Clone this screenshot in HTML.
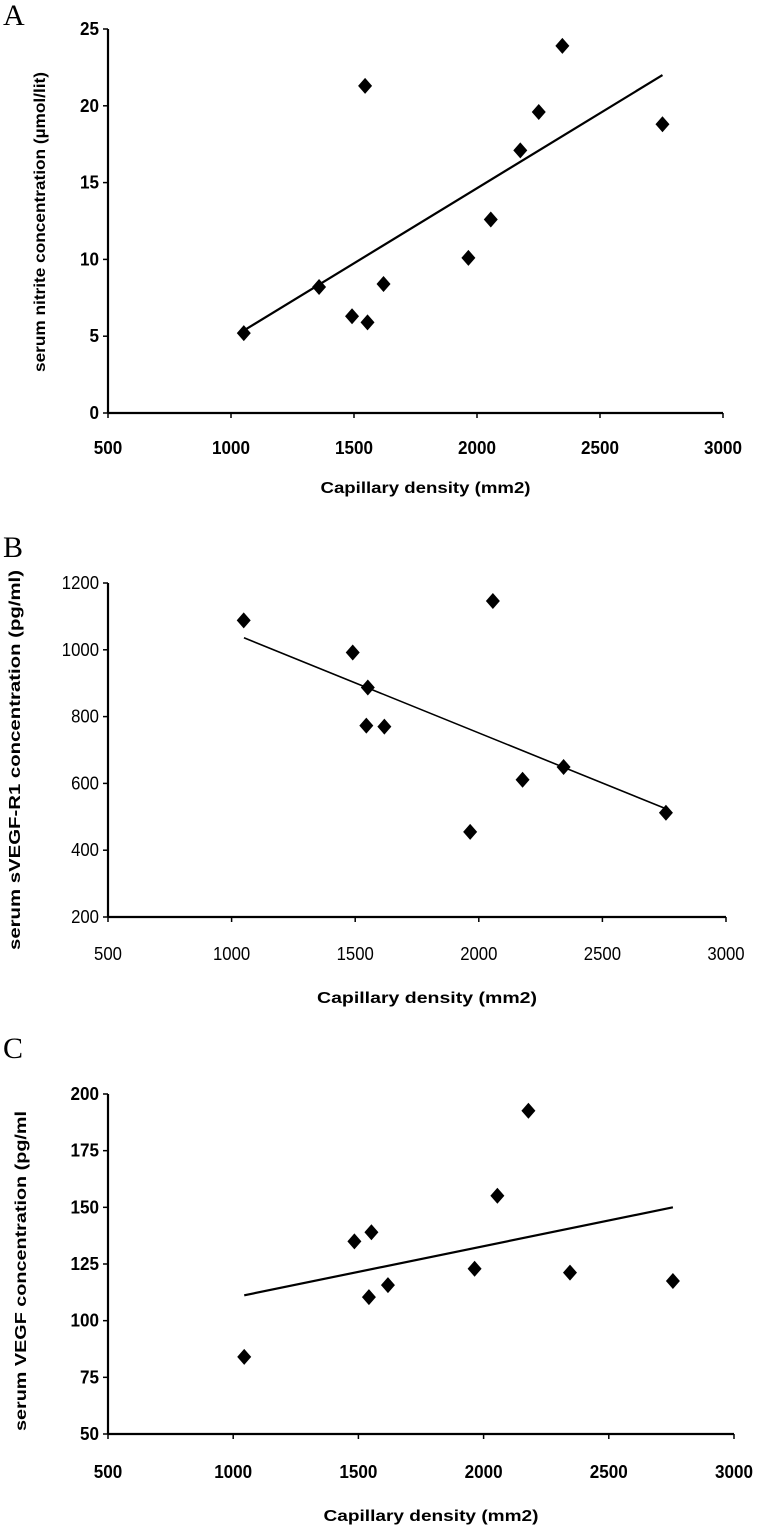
<!DOCTYPE html>
<html><head><meta charset="utf-8">
<style>
html,body{margin:0;padding:0;background:#fff;}
svg{display:block;}
.tb{font-family:"Liberation Sans Narrow","Liberation Sans",sans-serif;font-weight:bold;font-size:18px;fill:#000;}
.tr{font-family:"Liberation Sans Narrow","Liberation Sans",sans-serif;font-size:18px;fill:#000;}
.tt{font-family:"Liberation Sans Narrow","Liberation Sans",sans-serif;font-weight:bold;font-size:16px;fill:#000;}
.pl{font-family:"Liberation Serif",serif;font-size:30px;fill:#000;}
</style></head>
<body>
<svg id="chart" width="757" height="1528" viewBox="0 0 757 1528" xmlns="http://www.w3.org/2000/svg"></svg>
<script>
const xTicks = [500,1000,1500,2000,2500,3000];
const aX = [1052,1358,1492,1545,1555,1620,1965,2056,2176,2251,2347,2754];
const aY = [5.2,8.2,6.3,21.3,5.9,8.4,10.1,12.6,17.1,19.6,23.9,18.8];
const aTrendX = [1050,2754];
const aTrendY = [5.35,22.0];
const aYTicks = [0,5,10,15,20,25];
const bX = [1049,1490,1551,1545,1618,1965,2057,2177,2343,2757];
const bY = [1088,992,887,773,770,455,1146,611,649,512];
const bTrendX = [1050,2757];
const bTrendY = [1036,524];
const bYTicks = [200,400,600,800,1000,1200];
const cX = [1044,1484,1552,1542,1618,1964,2055,2179,2345,2756];
const cY = [84,135,139,110.4,115.7,122.9,155.1,192.6,121.2,117.5];
const cTrendX = [1044,2756];
const cTrendY = [111.2,150];
const cYTicks = [50,75,100,125,150,175,200];

const svg = document.getElementById('chart');
const NS = 'http://www.w3.org/2000/svg';
function mk(tag, attrs, parent){
  const e = document.createElementNS(NS, tag);
  for (const k in attrs) e.setAttribute(k, attrs[k]);
  (parent||svg).appendChild(e);
  return e;
}
function condense(t, p, s){
  if (p.tickClass === 'tb') {
    t.setAttribute('textLength', String(s).length * 9.5);
    t.setAttribute('lengthAdjust', 'spacingAndGlyphs');
  } else {
    t.setAttribute('textLength', String(s).length * 9.3);
    t.setAttribute('lengthAdjust', 'spacingAndGlyphs');
  }
}
function panel(p){
  const g = mk('g', {});
  
  
  const sx = v => p.x0 + (v - 500) / 2500 * (p.x1 - p.x0);
  const sy = v => p.yb + (v - p.ymin) / (p.ymax - p.ymin) * (p.yt - p.yb);
  const letter = mk('text', {x:3, y:p.letterY, class:'pl'}, g);
  letter.textContent = p.letter;
  
  
  const yax = mk('line', {x1:p.x0, y1:p.yt, x2:p.x0, y2:p.yb, stroke:'#000', 'stroke-width':2.2}, g);
  
  
  const xax = mk('line', {x1:p.x0, y1:p.yb, x2:p.x1, y2:p.yb, stroke:'#000', 'stroke-width':2.2}, g);
  
  
  p.yTicks.forEach(v => {
    const y = sy(v);
    mk('line', {x1:p.x0-5, y1:y, x2:p.x0, y2:y, stroke:'#000', 'stroke-width':1.5}, g);
    const t = mk('text', {x:p.x0-9, y:y+6, 'text-anchor':'end', class:p.tickClass}, g);
    t.textContent = v;
    condense(t, p, v);
    
    
  });
  xTicks.forEach(v => {
    const x = sx(v);
    mk('line', {x1:x, y1:p.yb, x2:x, y2:p.yb+5, stroke:'#000', 'stroke-width':1.5}, g);
    const t = mk('text', {x:x, y:p.xLabelY, 'text-anchor':'middle', class:p.tickClass}, g);
    t.textContent = v;
    condense(t, p, v);
    
    
  });
  const xt = mk('text', {x:(p.x0+p.x1)/2+10, y:p.xTitleY, 'text-anchor':'middle', class:'tt', textLength:p.xtl, lengthAdjust:'spacingAndGlyphs'}, g);
  xt.textContent = 'Capillary density (mm2)';
  
  
  const ym = p.ytc;
  const yt = mk('text', {x:p.yTitleX, y:ym, 'text-anchor':'middle', class:'tt', textLength:p.ytl, lengthAdjust:'spacingAndGlyphs', transform:'rotate(-90 '+p.yTitleX+' '+ym+')'}, g);
  yt.textContent = p.yTitle;
  
  
  const tl = mk('line', {x1:sx(p.tx[0]), y1:sy(p.ty[0]), x2:sx(p.tx[1]), y2:sy(p.ty[1]), stroke:'#000', 'stroke-width':p.lw}, g);
  
  
  p.xs.forEach((xv, i) => {
    const cx = sx(xv), cy = sy(p.ys[i]);
    const d = mk('path', {d:'M'+cx+' '+(cy-8)+'L'+(cx+7)+' '+cy+'L'+cx+' '+(cy+8)+'L'+(cx-7)+' '+cy+'Z', fill:'#000'}, g);
    
    
  });
}
panel({id:'a', letter:'A', letterY:25, x0:108, x1:723, yt:29, yb:413, ymin:0, ymax:25, yTicks:aYTicks,
  tickClass:'tb', xLabelY:454, xTitleY:493, yTitleX:45, ytc:222, ytl:300, xtl:210, lw:2.2,
  yTitle:'serum nitrite concentration (µmol/lit)', xs:aX, ys:aY, tx:aTrendX, ty:aTrendY});
panel({id:'b', letter:'B', letterY:557, x0:108, x1:726, yt:583, yb:917, ymin:200, ymax:1200, yTicks:bYTicks,
  tickClass:'tr', xLabelY:960, xTitleY:1003, yTitleX:20, ytc:760, ytl:380, xtl:220, lw:1.6,
  yTitle:'serum sVEGF-R1 concentration (pg/ml)', xs:bX, ys:bY, tx:bTrendX, ty:bTrendY});
panel({id:'c', letter:'C', letterY:1058, x0:108, x1:734, yt:1094, yb:1434, ymin:50, ymax:200, yTicks:cYTicks,
  tickClass:'tb', xLabelY:1478, xTitleY:1521, yTitleX:26, ytc:1271, ytl:320, xtl:215, lw:2.2,
  yTitle:'serum VEGF concentration (pg/ml', xs:cX, ys:cY, tx:cTrendX, ty:cTrendY});
</script>
</body></html>
